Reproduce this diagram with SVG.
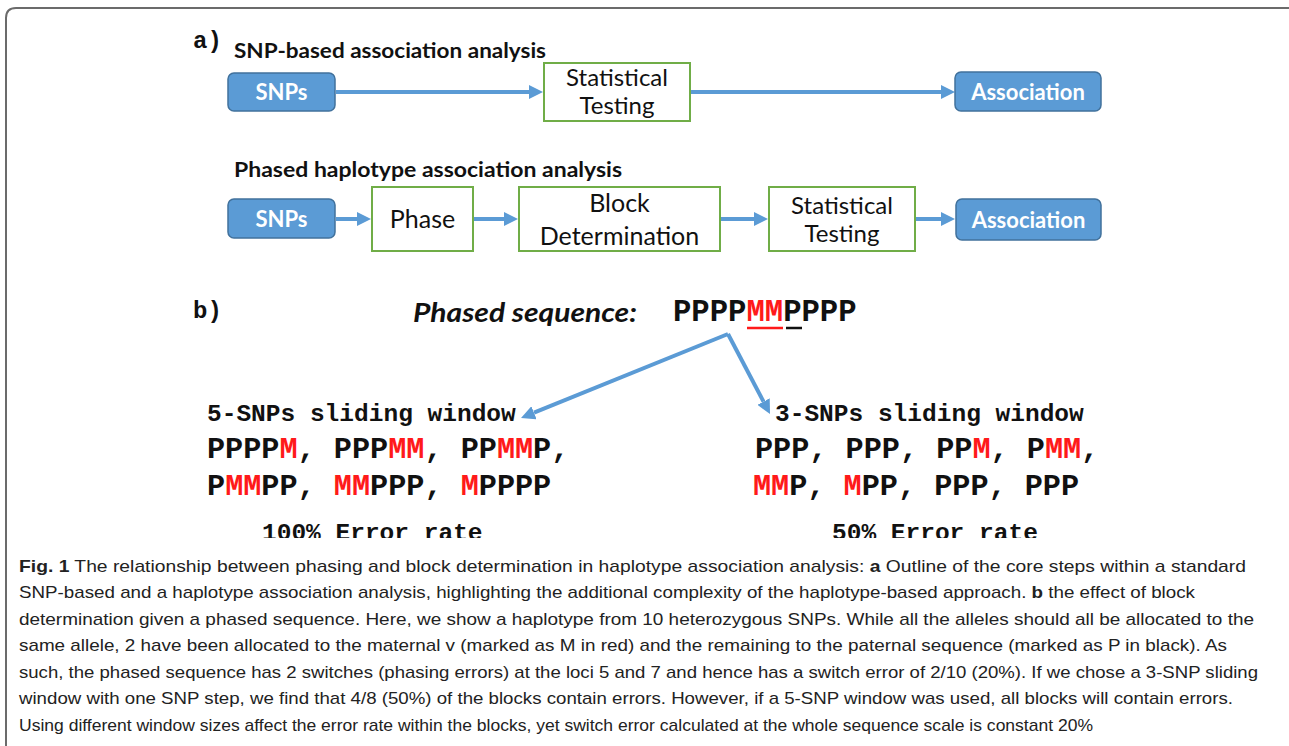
<svg xmlns="http://www.w3.org/2000/svg" width="1289" height="746" viewBox="0 0 1289 746">
<style>
.frame{fill:none;stroke:#6b6b6b;stroke-width:2}
.blue{fill:#5b9bd5;stroke:#41719c;stroke-width:1.5}
.green{fill:#fff;stroke:#70ad47;stroke-width:2}
.wt{font-family:Lato,"Liberation Sans",sans-serif;font-weight:bold;font-size:22px;fill:#fff;text-anchor:middle}
.bt{font-family:Lato,"Liberation Sans",sans-serif;font-size:25px;fill:#111;text-anchor:middle}
.st{font-size:24px}
.hd{font-family:Lato,"Liberation Sans",sans-serif;font-weight:bold;font-size:20px;fill:#111}
.mono{font-family:"Liberation Mono","Courier New",monospace;font-weight:bold;fill:#111}
.r{fill:#ff1a1a}
.conn{stroke:#5b9bd5;stroke-width:4;fill:none}
.cap{font-family:"Liberation Sans",Arial,sans-serif;font-size:17px;fill:#222}
.b{font-weight:bold}
</style>
<defs>
<marker id="ah" viewBox="0 0 14 14" refX="0" refY="7" markerWidth="14" markerHeight="14" markerUnits="userSpaceOnUse" orient="auto">
<path d="M0,0 L14,7 L0,14 Z" fill="#5b9bd5"/>
</marker>
<clipPath id="clipB"><rect x="0" y="0" width="1289" height="538"/></clipPath>
</defs>
<rect width="1289" height="746" fill="#fff"/>
<path class="frame" d="M6,746 V18 Q6,8 16,8 H1289"/>

<text class="mono" x="193" y="48" font-size="24">a)</text>
<text class="hd" x="234" y="58" textLength="312" lengthAdjust="spacingAndGlyphs">SNP-based association analysis</text>
<text class="hd" x="234" y="177" textLength="388" lengthAdjust="spacingAndGlyphs">Phased haplotype association analysis</text>

<g id="connectors">
<line class="conn" x1="336" y1="92" x2="529" y2="92" marker-end="url(#ah)"/>
<line class="conn" x1="691" y1="92" x2="941" y2="92" marker-end="url(#ah)"/>
<line class="conn" x1="336" y1="219" x2="357" y2="219" marker-end="url(#ah)"/>
<line class="conn" x1="474" y1="219" x2="504" y2="219" marker-end="url(#ah)"/>
<line class="conn" x1="721" y1="219" x2="754" y2="219" marker-end="url(#ah)"/>
<line class="conn" x1="916" y1="219" x2="941" y2="219" marker-end="url(#ah)"/>
<line class="conn" x1="728" y1="334" x2="534" y2="412.7" marker-end="url(#ah)"/>
<line class="conn" x1="728" y1="334" x2="763.5" y2="401.6" marker-end="url(#ah)"/>
</g>

<g id="snps1"><rect class="blue" x="228" y="73" width="107" height="38" rx="6"/><text class="wt" x="281.5" y="100">SNPs</text></g>
<g id="stat1"><rect class="green" x="544" y="63" width="146" height="58"/><text class="bt st" x="617" y="86">Statistical</text><text class="bt st" x="617" y="114">Testing</text></g>
<g id="assoc1"><rect class="blue" x="955" y="72" width="146" height="39" rx="6"/><text class="wt" x="1028" y="100">Association</text></g>

<g id="snps2"><rect class="blue" x="228" y="199" width="107" height="39" rx="6"/><text class="wt" x="281.5" y="227">SNPs</text></g>
<g id="phase"><rect class="green" x="372" y="187" width="101" height="64"/><text class="bt" x="422.5" y="228">Phase</text></g>
<g id="block"><rect class="green" x="519" y="187" width="201" height="64"/><text class="bt" x="619.5" y="212">Block</text><text class="bt" x="619.5" y="245">Determination</text></g>
<g id="stat2"><rect class="green" x="769" y="187" width="146" height="64"/><text class="bt st" x="842" y="214">Statistical</text><text class="bt st" x="842" y="242">Testing</text></g>
<g id="assoc2"><rect class="blue" x="956" y="199" width="145" height="41" rx="6"/><text class="wt" x="1028.5" y="228">Association</text></g>

<text class="mono" x="193" y="318" font-size="24">b)</text>
<g id="phased">
<text x="413" y="322" font-family="Lato,'Liberation Sans',sans-serif" font-weight="bold" font-style="italic" font-size="26" fill="#111" textLength="224" lengthAdjust="spacingAndGlyphs">Phased sequence:</text>
<text class="mono" x="673" y="321" font-size="30.6">PPPP<tspan class="r">MM</tspan>PPPP</text>
<line x1="747" y1="328" x2="783" y2="328" stroke="#ff1a1a" stroke-width="2.5"/>
<line x1="786" y1="328" x2="802" y2="328" stroke="#111" stroke-width="2.5"/>
</g>

<g id="win5">
<text class="mono" x="207" y="421" font-size="24.5">5-SNPs sliding window</text>
<text class="mono" x="207" y="458" font-size="30.2">PPPP<tspan class="r">M</tspan>, PPP<tspan class="r">MM</tspan>, PP<tspan class="r">MM</tspan>P,</text>
<text class="mono" x="207" y="495" font-size="30.2">P<tspan class="r">MM</tspan>PP, <tspan class="r">MM</tspan>PPP, <tspan class="r">M</tspan>PPPP</text>
<text class="mono" x="262" y="540" font-size="24.5" clip-path="url(#clipB)">100% Error rate</text>
</g>
<g id="win3">
<text class="mono" x="775" y="421" font-size="24.5">3-SNPs sliding window</text>
<text class="mono" x="755" y="458" font-size="30.2">PPP, PPP, PP<tspan class="r">M</tspan>, P<tspan class="r">MM</tspan>,</text>
<text class="mono" x="753" y="495" font-size="30.2"><tspan class="r">MM</tspan>P, <tspan class="r">M</tspan>PP, PPP, PPP</text>
<text class="mono" x="832" y="540" font-size="24.5" clip-path="url(#clipB)">50% Error rate</text>
</g>

<g id="caption">
<text class="cap" x="19" y="572" textLength="1227" lengthAdjust="spacingAndGlyphs"><tspan class="b">Fig. 1</tspan> The relationship between phasing and block determination in haplotype association analysis: <tspan class="b">a</tspan> Outline of the core steps within a standard</text>
<text class="cap" x="19" y="598" textLength="1176" lengthAdjust="spacingAndGlyphs">SNP-based and a haplotype association analysis, highlighting the additional complexity of the haplotype-based approach. <tspan class="b">b</tspan> the effect of block</text>
<text class="cap" x="19" y="625" textLength="1235" lengthAdjust="spacingAndGlyphs">determination given a phased sequence. Here, we show a haplotype from 10 heterozygous SNPs. While all the alleles should all be allocated to the</text>
<text class="cap" x="19" y="651" textLength="1208" lengthAdjust="spacingAndGlyphs">same allele, 2 have been allocated to the maternal v (marked as M in red) and the remaining to the paternal sequence (marked as P in black). As</text>
<text class="cap" x="19" y="678" textLength="1239" lengthAdjust="spacingAndGlyphs">such, the phased sequence has 2 switches (phasing errors) at the loci 5 and 7 and hence has a switch error of 2/10 (20%). If we chose a 3-SNP sliding</text>
<text class="cap" x="19" y="704" textLength="1214" lengthAdjust="spacingAndGlyphs">window with one SNP step, we find that 4/8 (50%) of the blocks contain errors. However, if a 5-SNP window was used, all blocks will contain errors.</text>
<text class="cap" x="19" y="731" textLength="1074" lengthAdjust="spacingAndGlyphs">Using different window sizes affect the error rate within the blocks, yet switch error calculated at the whole sequence scale is constant 20%</text>
</g>
</svg>
